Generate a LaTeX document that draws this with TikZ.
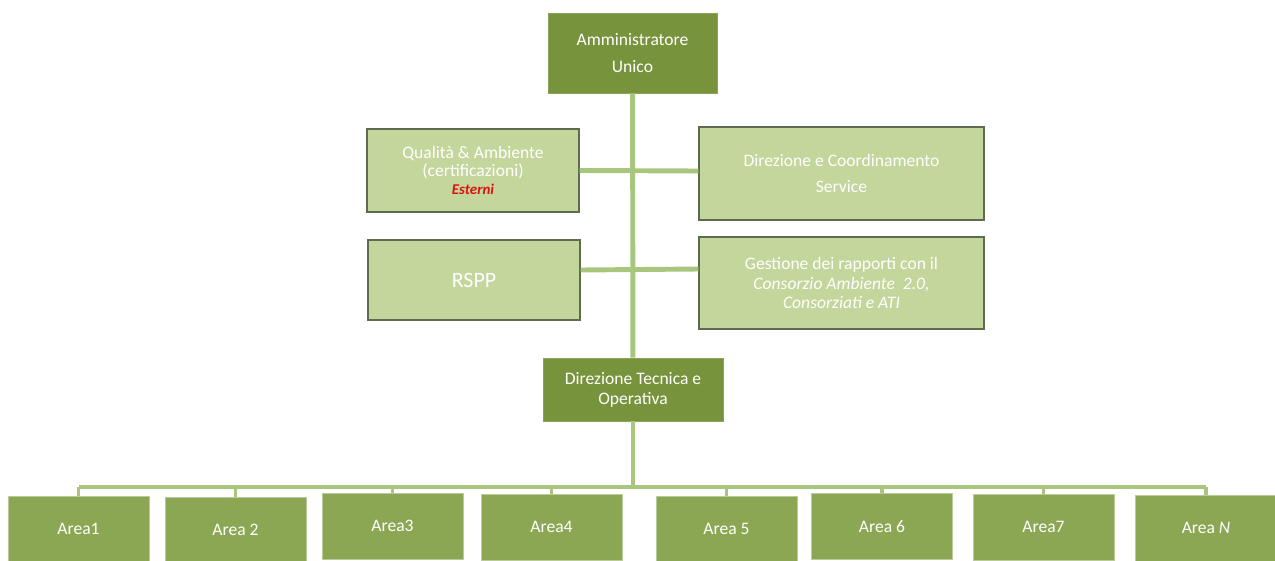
\documentclass[tikz,border=0pt]{standalone}
\usepackage{fontspec}
\setmainfont{Carlito}
\definecolor{headgreen}{HTML}{77933C}
\definecolor{areagreen}{HTML}{8CA753}
\definecolor{staffgreen}{HTML}{C3D69B}
\definecolor{staffline}{HTML}{5F6B50}
\definecolor{linkgreen}{HTML}{A8C67D}
\definecolor{esterni}{HTML}{E01010}

\begin{document}
\begin{tikzpicture}[x=0.02cm,y=-0.02cm,
    box/.style={rectangle,inner sep=2pt,align=center,text=white,
      font=\fontsize{10}{10.5}\selectfont},
    head/.style={box,fill=headgreen,draw=headgreen!85!white,line width=0.5pt},
    staff/.style={box,fill=staffgreen,draw=staffline,line width=0.7pt},
    area/.style={box,anchor=north,fill=areagreen,draw=areagreen!60!white,
      line width=0.4pt,minimum width=2.82cm,minimum height=1.32cm},
    link/.style={draw=linkgreen,line width=2.8pt},
    tick/.style={draw=linkgreen,line width=1.8pt}]
  \useasboundingbox (0,0) rectangle (1275,561);

  % top of the chart
  \node[head,minimum width=3.38cm,minimum height=1.6cm] (au) at (632.5,53)
    {Amministratore\\[5pt]Unico};
  \node[head,minimum width=3.6cm,minimum height=1.26cm,
    font=\fontsize{10}{11.3}\selectfont] (dt) at (633,389.5)
    {Direzione Tecnica e\\Operativa};

  % staff boxes
  \node[staff,minimum width=4.24cm,minimum height=1.66cm] (qa) at (473,170.5)
    {Qualità \& Ambiente\\(certificazioni)\\
     {\color{esterni}\fontsize{8.5}{10}\selectfont\bfseries\itshape Esterni}};
  \node[staff,minimum width=5.7cm,minimum height=1.86cm] (dc) at (841.5,173.5)
    {Direzione e Coordinamento\\[4.5pt]Service};
  \node[staff,minimum width=4.24cm,minimum height=1.6cm,
    font=\fontsize{12.5}{14}\selectfont] (rspp) at (474,280) {RSPP};
  \node[staff,minimum width=5.7cm,minimum height=1.84cm,
    font=\fontsize{10}{11}\selectfont] (gr) at (841.5,283)
    {Gestione dei rapporti con il\\
     \textit{Consorzio Ambiente\ \ 2.0,}\\
     \textit{Consorziati e ATI}};

  \draw[link] (au) -- (dt);
  \draw[link] (qa.east) -- ([yshift=0.05cm]dc.west);
  \draw[link] ([yshift=0.2cm]rspp.east) -- ([yshift=0.28cm]gr.west);

  % operative areas, running off the bottom edge
  \foreach \i/\x/\y/\t in {1/78.5/496/Area1, 2/235.5/497/Area 2,
      3/392.5/493/Area3, 4/551.5/494/Area4, 5/726.5/496/Area 5,
      6/882/493/Area 6, 7/1043.5/494/Area7, 8/1206/495/{Area \textit{N}}}
    \node[area] (a\i) at (\x,\y) {\t};

  \coordinate (bus) at (631,487);
  \draw[link] (dt.south) -- (dt.south |- bus);
  \draw[link,line width=2.2pt] (a1.north |- bus) -- (a8.north |- bus);
  \foreach \i in {1,...,8}
    \draw[tick] (a\i.north) -- (a\i.north |- bus);
\end{tikzpicture}
\end{document}
